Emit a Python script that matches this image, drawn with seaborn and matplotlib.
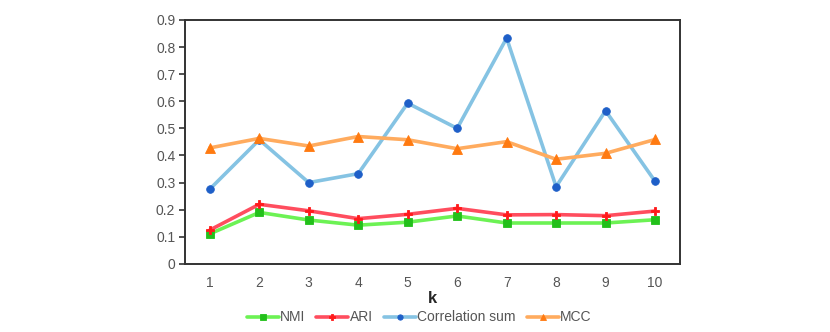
import numpy as np
import pandas as pd
import matplotlib
matplotlib.use('Agg')
import matplotlib.pyplot as plt
import seaborn as sns

sns.set_style('white')
plt.rcParams['font.family'] = ['Liberation Sans', 'DejaVu Sans']

k = ['1', '2', '3', '4', '5', '6', '7', '8', '9', '10']
nmi = [0.111, 0.190, 0.162, 0.143, 0.154, 0.177, 0.151, 0.151, 0.151, 0.163]
ari = [0.125, 0.220, 0.196, 0.167, 0.183, 0.205, 0.181, 0.182, 0.178, 0.195]
corr_sum = [0.276, 0.458, 0.300, 0.333, 0.593, 0.500, 0.833, 0.285, 0.565, 0.305]
mcc = [0.428, 0.463, 0.435, 0.470, 0.458, 0.425, 0.451, 0.386, 0.408, 0.459]

names = ['NMI', 'ARI', 'Correlation sum', 'MCC']
line_colors = ['#6cf254', '#ff4d5e', '#85c3e3', '#ffab5e']
marker_colors = ['#22c01a', '#ff1a1a', '#1e5fc8', '#ff7a10']
markers = ['s', 'P', 'o', '^']
msizes = [6, 5.5, 5.5, 7]

df = pd.DataFrame({'k': k * 4,
                   'value': nmi + ari + corr_sum + mcc,
                   'metric': np.repeat(names, len(k))})

fig, ax = plt.subplots(figsize=(8.3, 3.32), dpi=100)
fig.subplots_adjust(left=0.223, right=0.819, top=0.94, bottom=0.205)

for name, lc, mc, m, ms in zip(names, line_colors, marker_colors, markers, msizes):
    sub = df[df['metric'] == name]
    sns.lineplot(data=sub, x='k', y='value', ax=ax, color=lc, lw=2.6,
                 marker=m, markersize=ms, markerfacecolor=mc, markeredgecolor=mc,
                 markeredgewidth=0.6, sort=False, label=name)

ax.set_xlim(-0.5, 9.5)
ax.set_ylim(0, 0.9)
ax.set_yticks(np.arange(0, 0.91, 0.1))
ax.set_yticklabels(['0'] + [f'{v:.1f}' for v in np.arange(0.1, 0.91, 0.1)])
for s in ax.spines.values():
    s.set_color('#333333')
    s.set_linewidth(1.4)
ax.tick_params(axis='y', which='both', left=True, length=4, width=1.2, color='#333333',
               labelsize=10, labelcolor='#555555', pad=3)
ax.tick_params(axis='x', bottom=False, labelsize=10, labelcolor='#555555', pad=5)
ax.set_xlabel('k', fontsize=12, fontweight='bold', labelpad=1)
ax.set_ylabel('')

ax.get_legend().remove()
handles, labels = ax.get_legend_handles_labels()
fig.legend(handles, labels, loc='lower center', ncol=4, frameon=False,
           bbox_to_anchor=(0.505, -0.015), fontsize=10, handlelength=2.3,
           handletextpad=0.1, columnspacing=0.8, markerscale=0.7,
           labelcolor='#555555')

plt.savefig('out.png', dpi=100)
